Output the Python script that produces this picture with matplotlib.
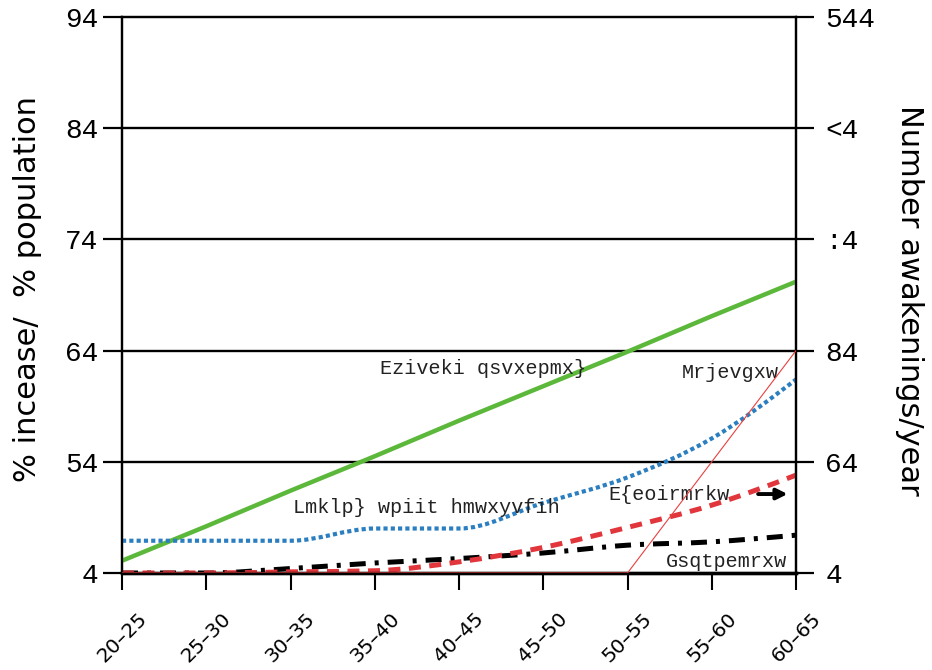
import numpy as np
import matplotlib.pyplot as plt
from matplotlib.path import Path
from matplotlib.patches import PathPatch
import matplotlib.transforms as mtransforms

# age groups on the x axis
age_groups = ["20\u201325", "25\u201330", "30\u201335", "35\u201340", "40\u201345",
              "45\u201350", "50\u201355", "55\u201360", "60\u201365"]

# series (left axis units)
average_mortality = [1.1, 4.2, 7.4, 10.5, 13.7, 16.8, 19.9, 23.1, 26.2]
sleep_disturbed = [2.9, 2.9, 2.9, 4.0, 4.0, 6.3, 8.6, 12.1, 17.4]
awakenings = [0.0, 0.0, 0.1, 0.2, 1.0, 2.3, 4.1, 6.1, 8.8]
complaints = [0.0, 0.0, 0.4, 0.9, 1.3, 1.8, 2.5, 2.8, 3.4]
# infarcts on the right axis
infarcts = [0, 0, 0, 0, 0, 0, 0, 20, 40]

left_ticks = [0, 10, 20, 30, 40, 50]
left_labels = ["4", "54", "64", "74", "84", "94"]
right_ticks = [0, 20, 40, 60, 80, 100]
right_labels = ["4", "64", "84", ":4", "<4", "544"]

mono = "Liberation Mono"
sans = "DejaVu Sans"


def monotone_path(xs, ys):
    # monotone cubic curve as bezier segments
    xs = np.asarray(xs, float)
    ys = np.asarray(ys, float)
    h = np.diff(xs)
    s = np.diff(ys) / h
    t = np.zeros(len(xs))
    for i in range(1, len(xs) - 1):
        if s[i - 1] * s[i] <= 0:
            t[i] = 0
        else:
            p = (s[i - 1] * h[i] + s[i] * h[i - 1]) / (h[i - 1] + h[i])
            t[i] = (np.sign(s[i - 1]) + np.sign(s[i])) * min(abs(s[i - 1]), abs(s[i]), 0.5 * abs(p))
    t[0] = (3 * s[0] - t[1]) / 2
    t[-1] = (3 * s[-1] - t[-2]) / 2
    verts = [(xs[0], ys[0])]
    codes = [Path.MOVETO]
    for i in range(len(xs) - 1):
        dx = h[i] / 3
        verts += [(xs[i] + dx, ys[i] + dx * t[i]),
                  (xs[i + 1] - dx, ys[i + 1] - dx * t[i + 1]),
                  (xs[i + 1], ys[i + 1])]
        codes += [Path.CURVE4] * 3
    return Path(verts, codes)


x = np.arange(len(age_groups))

fig = plt.figure(figsize=(9.32, 6.70), dpi=100)
ax = fig.add_axes([0.1309, 0.1448, 0.7232, 0.8298])
ax2 = ax.twinx()

ax.set_xlim(0, 8)
ax.set_ylim(0, 50)
ax2.set_ylim(0, 100)

# grid lines
for yv in left_ticks[1:-1]:
    ax.axhline(yv, color="black", linewidth=1.7, zorder=1)

# average mortality
ax.plot(x, average_mortality, color="#5cb83a", linewidth=3.2, zorder=3)

# infarcts (thin straight line)
ax2.plot(x, infarcts, color="#e8403f", linewidth=0.8, zorder=3)

# smooth lines
ax.add_patch(PathPatch(monotone_path(x, sleep_disturbed), fill=False,
                       edgecolor="#2b7fc0", linewidth=3.0,
                       linestyle=(0, (1.0, 0.75)), capstyle="butt", zorder=3))
ax.add_patch(PathPatch(monotone_path(x, complaints), fill=False,
                       edgecolor="black", linewidth=3.6,
                       linestyle=(0, (3.2, 1.8, 0.8, 1.8)), capstyle="butt", zorder=3))
ax.add_patch(PathPatch(monotone_path(x, awakenings), fill=False,
                       edgecolor="#e0363c", linewidth=3.6,
                       linestyle=(0, (2.4, 1.7)), capstyle="butt", zorder=4))

# annotations
txt = dict(family=mono, fontsize=14.5, color="#222222", zorder=5)
ax.text(3.06, 18.4, "Eziveki qsvxepmx}", ha="left", va="center", **txt)
ax.text(7.8, 18.0, "Mrjevgxw", ha="right", va="center", **txt)
ax.text(2.03, 5.85, "Lmklp} wpiit hmwxyvfih", ha="left", va="center", **txt)
ax.text(5.77, 7.1, "E{eoirmrkw", ha="left", va="center", **txt)
ax.text(7.9, 1.0, "Gsqtpemrxw", ha="right", va="center", **txt)
ax.annotate("", xy=(7.9, 7.1), xytext=(7.55, 7.1),
            arrowprops=dict(arrowstyle="-|>", color="black", lw=2.8,
                            mutation_scale=16, shrinkA=0, shrinkB=0))

# axes styling
ax.set_xticks(x)
ax.set_xticklabels(age_groups, rotation=45, ha="center", va="top",
                   family=sans, fontsize=14.5)
offset = mtransforms.ScaledTranslation(-11 / 100, 0, fig.dpi_scale_trans)
for lab in ax.get_xticklabels():
    lab.set_transform(lab.get_transform() + offset)

ax.set_yticks(left_ticks)
ax.set_yticklabels(left_labels, family=mono, fontsize=20)
ax2.set_yticks(right_ticks)
ax2.set_yticklabels(right_labels, family=mono, fontsize=20)

ax.tick_params(axis="x", length=12, width=1.5, pad=14)
ax.tick_params(axis="y", length=14, width=1.6, pad=3)
ax2.tick_params(axis="y", length=13, width=1.6, pad=8)

for a in (ax, ax2):
    for side in ("left", "right", "top"):
        a.spines[side].set_linewidth(1.6)
    a.spines["bottom"].set_linewidth(2.4)

ax.set_ylabel("% incease/  % population", family=sans, fontsize=22, labelpad=6)
ax.yaxis.set_label_coords(-0.119, 0.51)
ax2.set_ylabel("Number awakenings/year", family=sans, fontsize=22,
               rotation=270, labelpad=20)
ax2.yaxis.set_label_coords(1.19, 0.49)

fig.savefig("out.png", dpi=100)
